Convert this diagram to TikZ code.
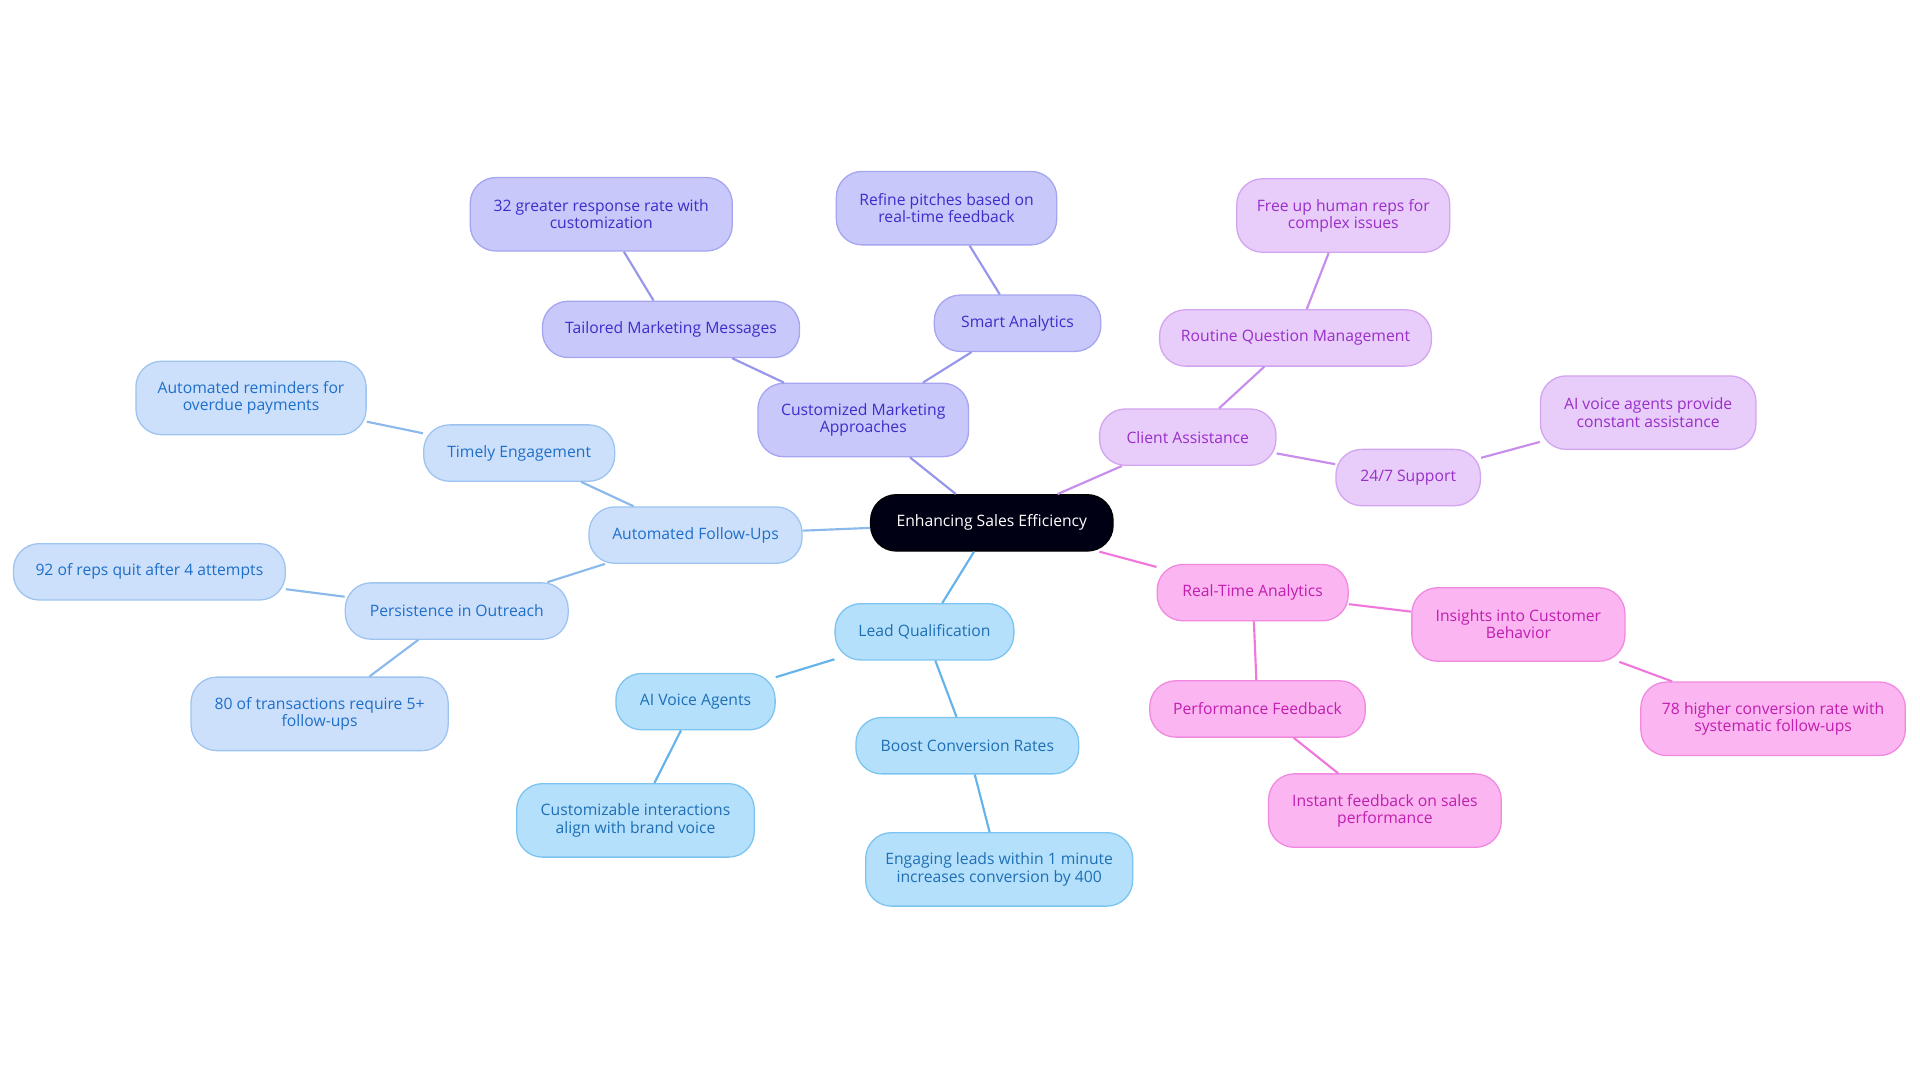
\documentclass[tikz,border=0pt]{standalone}
\usepackage{fontspec}
\setmainfont{Open Sans}
\begin{document}
\begin{tikzpicture}[x=0.02cm,y=-0.02cm,
 base/.style={rounded corners=0.42cm,align=center,font=\fontsize{7.3}{8}\selectfont,line width=0.6pt,inner sep=0pt},
 cen/.style={base,fill=black!92!blue,text=white,draw=black},
 pb/.style={base,fill={rgb,255:red,200;green,200;blue,250},draw={rgb,255:red,165;green,165;blue,240},text={rgb,255:red,59;green,47;blue,201}},
 lp/.style={base,fill={rgb,255:red,232;green,204;blue,250},draw={rgb,255:red,211;green,165;blue,240},text={rgb,255:red,154;green,47;blue,201}},
 pk/.style={base,fill={rgb,255:red,251;green,181;blue,240},draw={rgb,255:red,240;green,138;blue,224},text={rgb,255:red,192;green,31;blue,176}},
 lb/.style={base,fill={rgb,255:red,181;green,224;blue,251},draw={rgb,255:red,124;green,196;blue,240},text={rgb,255:red,30;green,111;blue,181}},
 bb/.style={base,fill={rgb,255:red,205;green,224;blue,251},draw={rgb,255:red,157;green,196;blue,240},text={rgb,255:red,30;green,111;blue,201}},
 epb/.style={draw={rgb,255:red,150;green,150;blue,235},line width=1pt},
 elp/.style={draw={rgb,255:red,200;green,140;blue,235},line width=1pt},
 epk/.style={draw={rgb,255:red,240;green,120;blue,220},line width=1pt},
 elb/.style={draw={rgb,255:red,100;green,180;blue,235},line width=1pt},
 ebb/.style={draw={rgb,255:red,140;green,185;blue,235},line width=1pt}]
\useasboundingbox (0,0) rectangle (1568,884);
\newcommand\nd[7]{\node[#1,minimum width=#5*0.02cm,minimum height=#6*0.02cm] (#2) at (#3,#4) {#7};}
\nd{cen}{c}{810}{427}{198}{46}{Enhancing Sales Efficiency}
\nd{pb}{cma}{705}{343}{172}{60}{Customized Marketing\\Approaches}
\nd{pb}{tmm}{548}{269}{210}{46}{Tailored Marketing Messages}
\nd{pb}{g32}{491}{175}{214}{60}{32 greater response rate with\\customization}
\nd{pb}{sa}{831}{264}{136}{46}{Smart Analytics}
\nd{pb}{rp}{773}{170}{180}{60}{Refine pitches based on\\real-time feedback}
\nd{lp}{ca}{970}{357}{144}{46}{Client Assistance}
\nd{lp}{rqm}{1058}{276}{222}{46}{Routine Question Management}
\nd{lp}{fu}{1097}{176}{174}{60}{Free up human reps for\\complex issues}
\nd{lp}{s24}{1150}{390}{118}{46}{24/7 Support}
\nd{lp}{av}{1346}{337}{176}{60}{AI voice agents provide\\constant assistance}
\nd{pk}{rta}{1023}{484}{156}{46}{Real-Time Analytics}
\nd{pk}{icb}{1240}{510}{174}{60}{Insights into Customer\\Behavior}
\nd{pk}{h78}{1448}{587}{216}{60}{78 higher conversion rate with\\systematic follow-ups}
\nd{pk}{pf}{1027}{579}{176}{46}{Performance Feedback}
\nd{pk}{if}{1131}{662}{190}{60}{Instant feedback on sales\\performance}
\nd{lb}{lq}{755}{516}{146}{46}{Lead Qualification}
\nd{lb}{ava}{568}{573}{130}{46}{AI Voice Agents}
\nd{lb}{ci}{519}{670}{194}{60}{Customizable interactions\\align with brand voice}
\nd{lb}{bcr}{790}{609}{182}{46}{Boost Conversion Rates}
\nd{lb}{el}{816}{710}{218}{60}{Engaging leads within 1 minute\\increases conversion by 400}
\nd{bb}{afu}{568}{437}{174}{46}{Automated Follow-Ups}
\nd{bb}{te}{424}{370}{156}{46}{Timely Engagement}
\nd{bb}{ar}{205}{325}{188}{60}{Automated reminders for\\overdue payments}
\nd{bb}{pio}{373}{499}{182}{46}{Persistence in Outreach}
\nd{bb}{r92}{122}{467}{222}{46}{92 of reps quit after 4 attempts}
\nd{bb}{t80}{261}{583}{210}{60}{80 of transactions require 5+\\follow-ups}
\begin{scope}[on background layer/.try]
\end{scope}
\draw[epb] (c) -- (cma); \draw[epb] (cma) -- (tmm); \draw[epb] (tmm) -- (g32);
\draw[epb] (cma) -- (sa); \draw[epb] (sa) -- (rp);
\draw[elp] (c) -- (ca); \draw[elp] (ca) -- (rqm); \draw[elp] (rqm) -- (fu);
\draw[elp] (ca) -- (s24); \draw[elp] (s24) -- (av);
\draw[epk] (c) -- (rta); \draw[epk] (rta) -- (icb); \draw[epk] (icb) -- (h78);
\draw[epk] (rta) -- (pf); \draw[epk] (pf) -- (if);
\draw[elb] (c) -- (lq); \draw[elb] (lq) -- (ava); \draw[elb] (ava) -- (ci);
\draw[elb] (lq) -- (bcr); \draw[elb] (bcr) -- (el);
\draw[ebb] (c) -- (afu); \draw[ebb] (afu) -- (te); \draw[ebb] (te) -- (ar);
\draw[ebb] (afu) -- (pio); \draw[ebb] (pio) -- (r92); \draw[ebb] (pio) -- (t80);
\end{tikzpicture}
\end{document}
